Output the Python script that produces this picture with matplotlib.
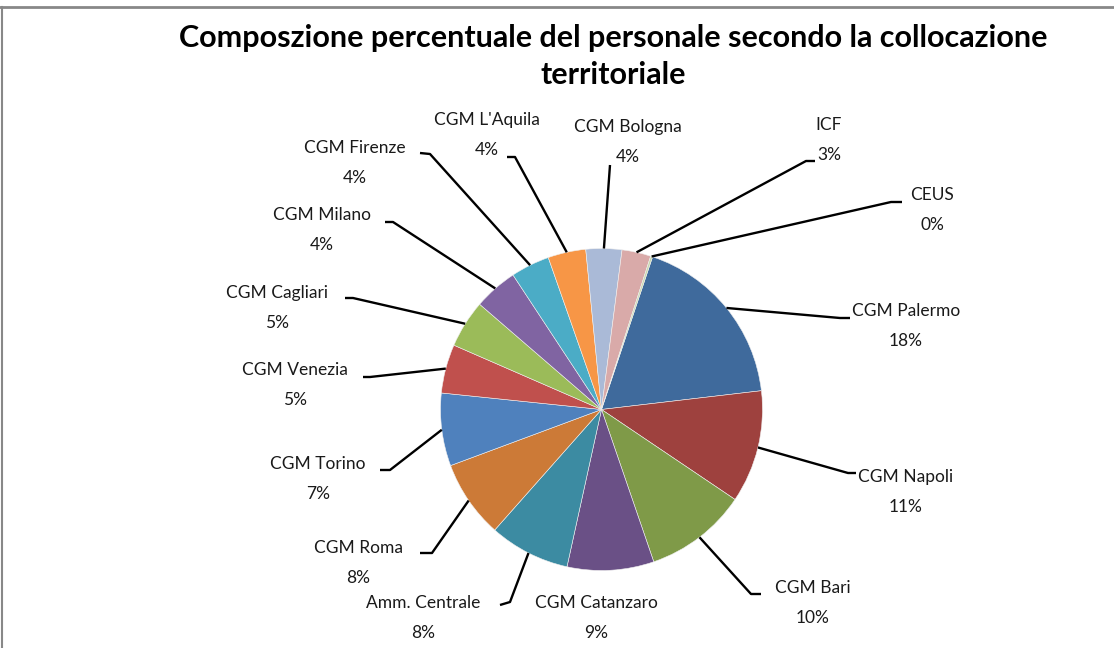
import numpy as np
import matplotlib
matplotlib.use('Agg')
import matplotlib.pyplot as plt
from matplotlib.lines import Line2D

# slices, clockwise starting from CGM Palermo
labels = ['CGM Palermo', 'CGM Napoli', 'CGM Bari', 'CGM Catanzaro', 'Amm. Centrale',
          'CGM Roma', 'CGM Torino', 'CGM Venezia', 'CGM Cagliari', 'CGM Milano',
          'CGM Firenze', "CGM L'Aquila", 'CGM Bologna', 'ICF', 'CEUS']
values = [18.0, 11.3, 10.3, 8.7, 8.1, 7.8, 7.3, 4.9, 4.8, 4.4, 3.9, 3.8, 3.6, 2.9, 0.2]
pct_text = ['18%', '11%', '10%', '9%', '8%', '8%', '7%', '5%', '5%', '4%',
            '4%', '4%', '4%', '3%', '0%']
colors = ['#3F6A9C', '#9E413E', '#7F9A48', '#6A5086', '#3C8BA2', '#CC7A37',
          '#4F81BD', '#C0504D', '#9BBB59', '#8064A2', '#4BACC6', '#F79646',
          '#AABAD7', '#D9AAA9', '#C9D8AE']

W, H = 1114, 648
FONT = 'Lato'

def Y(yp):
    return H - yp

# label layout in pixels: text centre x, first-line y, leader elbow (near text first)
label_pos = {
    'CGM Palermo':   (906, 311, [(850, 318), (840, 318)]),
    'CGM Napoli':    (906, 477, [(856, 473), (848, 473)]),
    'CGM Bari':      (813, 588, [(761, 594), (751, 594)]),
    'CGM Catanzaro': (596, 603, None),
    'Amm. Centrale': (423, 603, [(500, 605), (510, 602)]),
    'CGM Roma':      (358, 548, [(420, 553), (432, 553)]),
    'CGM Torino':    (318, 464, [(380, 470), (390, 470)]),
    'CGM Venezia':   (295, 370, [(363, 377), (370, 377)]),
    'CGM Cagliari':  (277, 293, [(345, 298), (353, 298)]),
    'CGM Milano':    (322, 215, [(385, 222), (393, 222)]),
    'CGM Firenze':   (355, 148, [(420, 153), (430, 154)]),
    "CGM L'Aquila":  (487, 120, [(507, 157), (515, 157)]),
    'CGM Bologna':   (628, 127, [(610, 165)]),
    'ICF':           (829, 125, [(815, 161), (806, 161)]),
    'CEUS':          (932, 195, [(902, 202), (891, 202)]),
}

fig = plt.figure(figsize=(W / 100, H / 100), dpi=100)
ax = fig.add_axes([0, 0, 1, 1])

cx, cy, r = 601.5, 409.5, 161
wedges, _ = ax.pie(values, colors=colors, startangle=71.5, counterclock=False,
                   center=(cx, Y(cy)), radius=r, frame=True,
                   wedgeprops=dict(linewidth=0.4, edgecolor='#f0f0f0'))
ax.set_xlim(0, W)
ax.set_ylim(0, H)
ax.set_aspect('equal')
ax.axis('off')

for w, lab, pt in zip(wedges, labels, pct_text):
    tx, ty, path = label_pos[lab]
    ax.text(tx, Y(ty), lab, ha='center', va='center', fontsize=12.5,
            family=FONT, color='#1a1a1a')
    ax.text(tx, Y(ty + 30), pt, ha='center', va='center', fontsize=12.5,
            family=FONT, color='#1a1a1a')
    if path is None:
        continue
    # leader starts on the wedge edge at its mid angle
    mid = np.deg2rad((w.theta1 + w.theta2) / 2)
    ex, ey = cx + r * np.cos(mid), Y(cy) + r * np.sin(mid)
    xs = [ex] + [p[0] for p in reversed(path)]
    ys = [ey] + [Y(p[1]) for p in reversed(path)]
    ax.plot(xs, ys, color='black', lw=1.7, solid_capstyle='butt')

ax.text(613, Y(38), 'Composzione percentuale del personale secondo la collocazione',
        ha='center', va='center', fontsize=22, fontweight='bold', family=FONT)
ax.text(613, Y(75), 'territoriale', ha='center', va='center', fontsize=22,
        fontweight='bold', family=FONT)

# chart frame (top and left edges visible)
fig.add_artist(Line2D([0, 1], [1 - 7 / H, 1 - 7 / H], color='#888888', lw=2))
fig.add_artist(Line2D([2 / W, 2 / W], [0, 1 - 7 / H], color='#888888', lw=1.5))

plt.savefig('out.png', dpi=100)
